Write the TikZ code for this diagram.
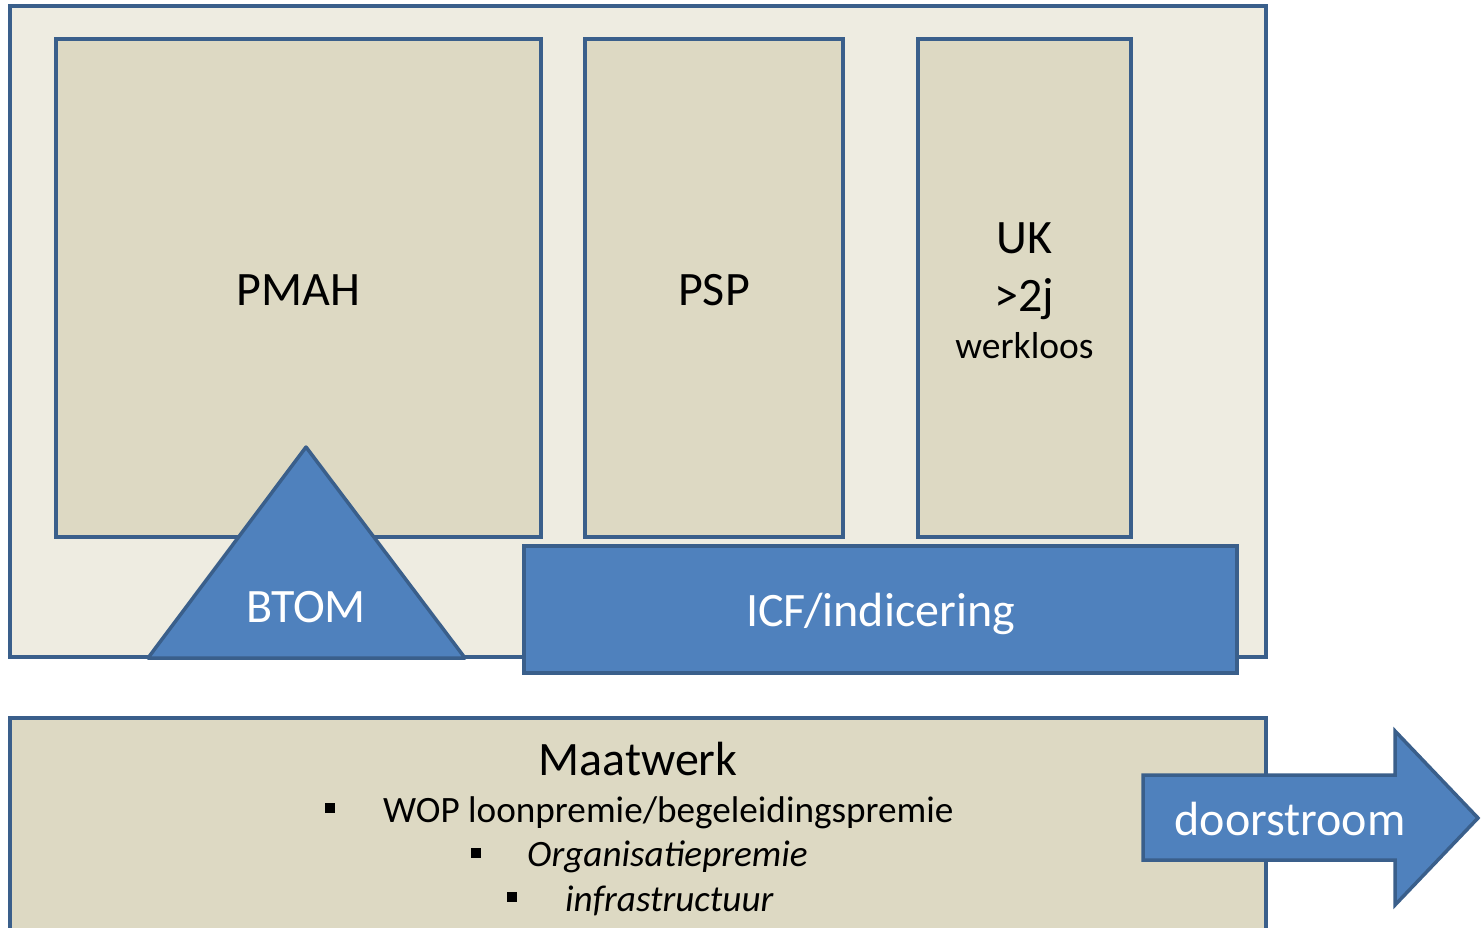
\documentclass[tikz,border=0pt]{standalone}
\usepackage{xcolor}
\usepackage{fontspec}
\setmainfont{Carlito}
\usepackage{tikz}
\usetikzlibrary{positioning,calc}

\definecolor{edgeBlue}{HTML}{3A5F8B}
\definecolor{fillBlue}{HTML}{4F81BD}
\definecolor{tanDark}{HTML}{DDD9C3}
\definecolor{tanLight}{HTML}{EEECE1}

\begin{document}
\begin{tikzpicture}[
  x=1pt, y=-1pt,
  frame/.style={draw=edgeBlue, line width=3.5pt, fill=tanLight, inner sep=0pt},
  tanbox/.style={draw=edgeBlue, line width=3.5pt, fill=tanDark, inner sep=0pt, align=center, font=\fontsize{48}{57}\selectfont},
  bluebox/.style={draw=edgeBlue, line width=3.5pt, fill=fillBlue, inner sep=0pt, align=center, text=white, font=\fontsize{48}{57}\selectfont},
  bluefill/.style={draw=edgeBlue, line width=3.5pt, fill=fillBlue, line join=round},
  bigtext/.style={font=\fontsize{48}{57}\selectfont},
  itemtext/.style={anchor=base west, inner sep=0pt, font=\fontsize{37.2}{40}\selectfont},
  bullet/.style={fill=black, inner sep=0pt, minimum size=9.5pt}
]
\clip (0,0) rectangle (1484,927);

\node[frame, minimum width=1256, minimum height=651] (frameBox) at (638,331.5) {};

\node[tanbox, minimum width=485, minimum height=498] (pmahBox) at (298.5,288) {\raisebox{-2pt}[\height][\depth]{PMAH}};
\node[tanbox, minimum width=258, minimum height=498] (pspBox) at (714,288) {\raisebox{-2pt}[\height][\depth]{PSP}};
\node[tanbox, minimum width=213, minimum height=498] (ukBox) at (1024.5,288)
  {\raisebox{-7pt}[\height][\depth]{\begin{tabular}{@{}c@{}}UK\\[1pt]>2j\\[-10pt]{\fontsize{37.5}{40}\selectfont werkloos}\end{tabular}}};

\node[bluebox, minimum width=713, minimum height=127] (icfBox) at (880.5,609.5) {\raisebox{-4pt}[\height][\depth]{ICF/indicering}};

% triangle
\coordinate (btomTop) at (306,447);
\coordinate (btomLeft) at (148,658);
\coordinate (btomRight) at (465,658);
\draw[bluefill] (btomTop) -- (btomRight) -- (btomLeft) -- cycle;
\node[bigtext, text=white] (btomLabel) at (306,607) {BTOM};

\node[tanbox, minimum width=1256, minimum height=240] (maatBox) at (638,838) {};
\node[itemtext, font=\fontsize{48}{50}\selectfont, anchor=base] (maatTitle) at (638,775) {Maatwerk};
\node[bullet] (bulletOne) at (330,808) {};
\node[itemtext] (itemOne) at (383,822) {WOP loonpremie/begeleidingspremie};
\node[bullet] (bulletTwo) at (476,853) {};
\node[itemtext] (itemTwo) at (527,866) {\itshape Organisatiepremie};
\node[bullet] (bulletThree) at (512,897) {};
\node[itemtext] (itemThree) at (565,911) {\itshape infrastructuur};

% arrow
\coordinate (arrTail) at (1143,775);
\draw[bluefill, line join=miter] (arrTail) -- (1395,775) -- (1395,731) -- (1478,818)
  -- (1395,905) -- (1395,860) -- (1143,860) -- cycle;
\node[bigtext, text=white] (doorLabel) at (1290,819) {doorstroom};

\end{tikzpicture}
\end{document}
